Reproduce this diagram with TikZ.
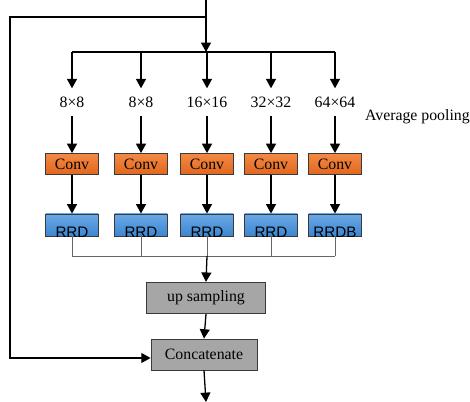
\documentclass[tikz,border=0pt]{standalone}
\usepackage{fontspec}
\setmainfont{Liberation Serif}
\setsansfont{Liberation Sans}
\usetikzlibrary{arrows.meta}
\definecolor{convtop}{HTML}{F58A45}
\definecolor{convbot}{HTML}{E0661C}
\definecolor{rrdtop}{HTML}{6AAAE8}
\definecolor{rrdbot}{HTML}{3D85CE}
\definecolor{boxgray}{HTML}{A6A6A6}
\definecolor{rahmen}{HTML}{3A3A3A}
\tikzset{
	pool/.style={font=\fontsize{13.5}{15}\selectfont,inner sep=0pt,minimum height=23pt},
	conv/.style={draw=rahmen,line width=0.6pt,top color=convtop,bottom color=convbot,
		minimum width=45pt,minimum height=18pt,inner sep=0pt,font=\fontsize{13.5}{15}\selectfont},
	rrd/.style={draw=rahmen,line width=0.6pt,top color=rrdtop,bottom color=rrdbot,
		minimum width=45pt,minimum height=19pt,inner sep=0pt},
	rrdtext/.style={font=\sffamily\fontsize{13}{15}\selectfont,inner sep=0pt,anchor=base,yshift=-1pt},
	grau/.style={draw=rahmen,line width=0.6pt,fill=boxgray,inner sep=0pt,font=\fontsize{13.5}{15}\selectfont},
	pfeil/.style={line width=1.1pt,-{Triangle[length=8pt,width=8.5pt]}},
	duenn/.style={line width=0.5pt,draw=gray!80!black}
}
\begin{document}
\begin{tikzpicture}[x=0.03cm,y=-0.03cm]
\useasboundingbox (0,0) rectangle (470,402);
% Eingang und Verteilung
\coordinate (in) at (206,0);
\coordinate (ab) at (206,17);
\coordinate (split) at (206,52);
\draw[pfeil] (in) -- (split);
\def\zweig#1#2#3#4{
	\coordinate (s#1) at (#2,52);
	\node[pool] (p#1) at (#2,102) {#3};
	\node[conv] (c#1) at (#2,164) {Conv};
	\node[rrd,label={[rrdtext]south:#4}] (r#1) at (#2,225) {};
	\coordinate (m#1) at (#2,256);
	\draw[pfeil] (s#1) -- (p#1.north);
	\draw[pfeil] (p#1.south) -- (c#1.north);
	\draw[pfeil] (c#1.south) -- (r#1.north);
	\draw[duenn] (r#1.south) -- (m#1);
}
\zweig{1}{72}{8×8}{RRD}
\zweig{2}{141}{8×8}{RRD}
\zweig{3}{207}{16×16}{RRD}
\zweig{4}{271}{32×32}{RRD}
\zweig{5}{335}{64×64}{RRDB}
\draw[line width=1.1pt] (s1) -- (s5);
\draw[duenn] (m1) -- (m5);
\node[pool,anchor=east] (avg) at (470,117) {Average pooling};
% Zusammenfuehren
\node[grau,minimum width=101.5pt,minimum height=27pt] (up) at (206,298) {up sampling};
\node[grau,minimum width=90.5pt,minimum height=26.5pt] (cat) at (204,354.5) {Concatenate};
\coordinate (aus) at (206,402);
\draw[pfeil] (m3) -- (up.north);
\draw[pfeil] (up.south) -- (cat.north);
\draw[pfeil] (cat.south) -- (aus);
\draw[pfeil] (ab) -- (10,17) -- (10,358) -- (cat.west |- 0,358);
\end{tikzpicture}
\end{document}
